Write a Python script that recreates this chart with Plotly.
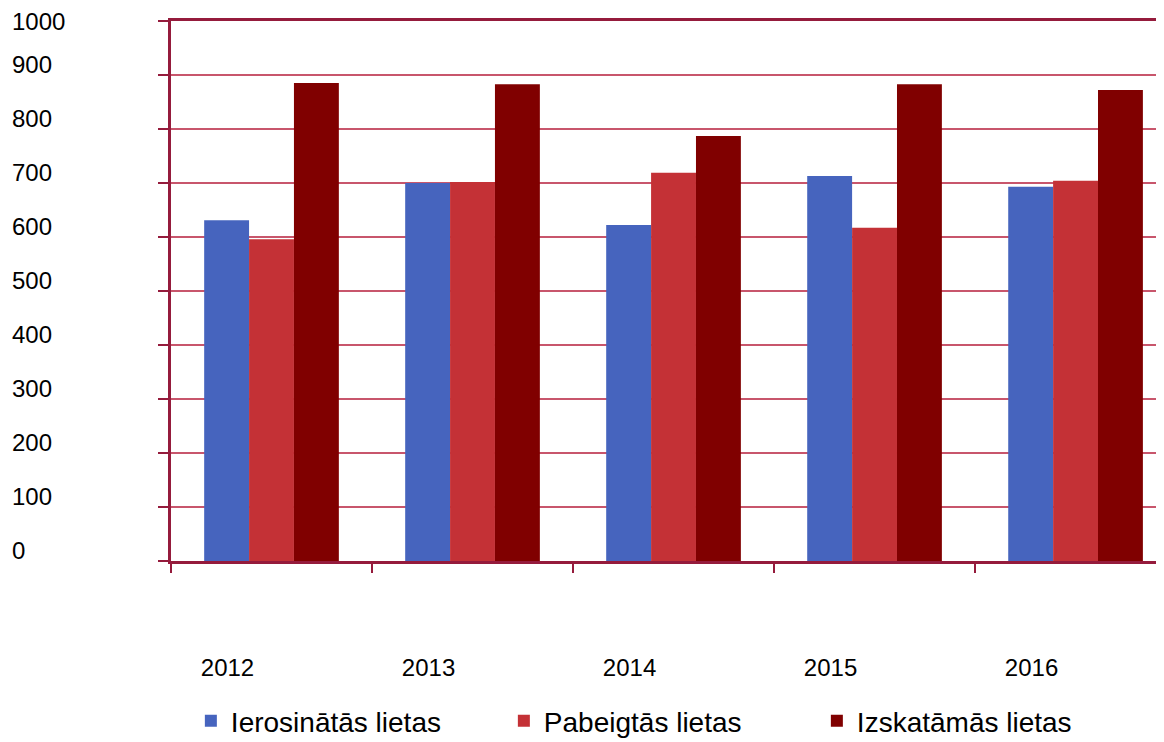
import plotly.graph_objects as go

years = ["2012", "2013", "2014", "2015", "2016"]
series_names = ["Ierosinātās lietas", "Pabeigtās lietas", "Izskatāmās lietas"]
ierosinatas = [631, 700, 622, 713, 693]
pabeigtas = [596, 702, 719, 617, 704]
izskatamas = [885, 883, 787, 883, 872]
y_ticks = [0, 100, 200, 300, 400, 500, 600, 700, 800, 900, 1000]

colors = ["#4664BE", "#C43136", "#800000"]
axis_col = "#951B3C"
grid_col = "#C8566C"
font_family = "Liberation Sans, Arial, sans-serif"

fig = go.Figure()
for name, vals, col in zip(series_names, [ierosinatas, pabeigtas, izskatamas], colors):
    fig.add_trace(go.Bar(x=years, y=vals, name=name, marker=dict(color=col, line=dict(width=0))))

# y tick labels as left-aligned text (offset slightly above grid lines as in reference)
for v in y_ticks:
    shift = 0 if v == 1000 else 11
    fig.add_annotation(x=0.0, xref="paper", xshift=-161, y=v, yref="y", yshift=shift,
                       text=str(v), showarrow=False, xanchor="left", yanchor="middle",
                       font=dict(family=font_family, size=24, color="#000000"))

fig.update_layout(
    width=1164, height=742,
    margin=dict(l=163, r=8, t=13, b=189, autoexpand=False),
    paper_bgcolor="white", plot_bgcolor="white",
    barmode="group", bargap=0.33, bargroupgap=0,
    font=dict(family=font_family, size=24, color="#000000"),
    showlegend=True,
    legend=dict(orientation="h", x=0.02, xanchor="left", y=-0.25, yanchor="top",
                font=dict(family=font_family, size=28, color="#000000"),
                itemwidth=30, entrywidth=268, entrywidthmode="pixels",
                bgcolor="rgba(0,0,0,0)", borderwidth=0),
)
fig.update_xaxes(type="category", range=[-0.5, 4.44], tickson="boundaries",
                 showline=True, linecolor=axis_col, linewidth=2.5, mirror=True,
                 ticks="outside", ticklen=9, tickwidth=1.5, tickcolor=axis_col,
                 ticklabelshift=-44, ticklabelstandoff=83,
                 tickfont=dict(family=font_family, size=24, color="#000000"),
                 showgrid=False, zeroline=False, fixedrange=True)
fig.update_yaxes(range=[0, 1000], tickvals=y_ticks, showticklabels=False,
                 showline=True, linecolor=axis_col, linewidth=2.5,
                 ticks="outside", ticklen=10, tickwidth=1.5, tickcolor=axis_col,
                 showgrid=True, gridcolor=grid_col, gridwidth=1.5,
                 zeroline=False, fixedrange=True)

fig.write_html("out.html")
